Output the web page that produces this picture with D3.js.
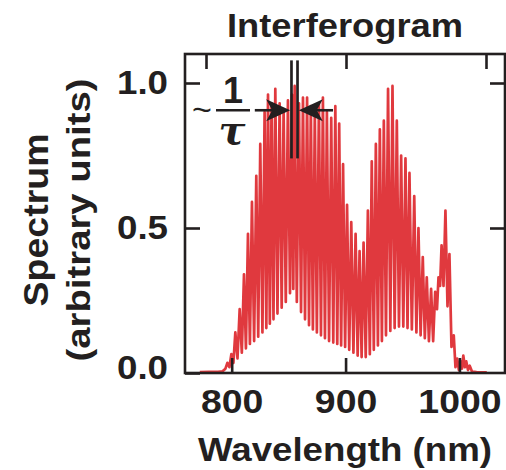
<!DOCTYPE html>
<html>
<head>
<meta charset="utf-8">
<script src="https://cdn.jsdelivr.net/npm/d3@7"></script>
<style>
  body { margin: 0; background: #fff; }
  text { font-family: "Liberation Sans", Arial, Helvetica, sans-serif; font-weight: bold; fill: #231f20; }
</style>
</head>
<body>
<div id="chart"></div>
<script>

// spectrum: fringe peaks and troughs, in order of wavelength
var spectrumWl = [
  772, 780, 788, 792, 794.5,
  796.2, 798.0, 799.7, 801.5, 803.2, 805.1, 807.0, 808.9, 810.8, 812.5,
  814.3, 816.0, 817.8, 819.7, 821.6, 823.3, 825.1, 827.0, 828.9, 830.4,
  831.9, 833.5, 835.0, 836.7, 838.3, 840.2, 842.1, 843.9, 845.6, 847.5,
  849.4, 851.2, 852.9, 854.1, 855.3, 857.2, 859.1, 860.9, 862.6, 864.4,
  866.2, 867.9, 869.5, 871.3, 873.0, 874.8, 876.6, 878.4, 880.1, 881.9,
  883.6, 885.5, 887.4, 889.2, 891.0, 892.7, 894.4, 896.1, 897.8, 899.6,
  901.3, 903.2, 905.0, 906.9, 908.8, 910.6, 912.3, 914.1, 915.8, 917.7,
  919.6, 921.3, 923.0, 924.8, 926.6, 928.4, 930.1, 931.9, 933.6, 935.5,
  937.3, 939.3, 941.2, 943.1, 945.0, 946.9, 948.8, 950.7, 952.6, 954.4,
  956.1, 958.2, 960.3, 962.2, 964.0, 965.9, 967.8, 969.6, 971.3, 973.2,
  975.1, 976.9, 978.7, 980.3, 981.6, 983.0, 984.3, 986.0, 987.7, 989.5,
  991.2, 993.0, 995.0, 996.5, 998.0, 999.5, 1001.0, 1002.2, 1003.4, 1004.8,
  1006.0, 1007.5, 1009.0, 1011, 1015, 1020, 1024
];
var spectrumVal = [
  0.003, 0.004, 0.004, 0.006, 0.015,
  0.035, 0.02, 0.065, 0.035, 0.14, 0.05, 0.22, 0.07, 0.34, 0.085,
  0.48, 0.10, 0.59, 0.11, 0.68, 0.125, 0.79, 0.14, 0.90, 0.155,
  0.96, 0.17, 0.93, 0.185, 0.98, 0.205, 0.93, 0.225, 0.91, 0.245,
  0.94, 0.275, 0.96, 0.29, 0.99, 0.245, 0.93, 0.21, 0.95, 0.185,
  0.95, 0.165, 0.92, 0.15, 0.90, 0.14, 0.93, 0.13, 0.95, 0.12,
  0.90, 0.11, 0.88, 0.105, 0.92, 0.10, 0.86, 0.095, 0.72, 0.09,
  0.58, 0.08, 0.52, 0.07, 0.48, 0.06, 0.42, 0.055, 0.45, 0.055,
  0.56, 0.065, 0.73, 0.08, 0.79, 0.095, 0.84, 0.11, 0.87, 0.13,
  0.98, 0.145, 0.99, 0.155, 0.87, 0.16, 0.75, 0.16, 0.74, 0.155,
  0.69, 0.15, 0.61, 0.14, 0.50, 0.13, 0.40, 0.12, 0.33, 0.11,
  0.29, 0.11, 0.28, 0.22, 0.33, 0.30, 0.44, 0.30, 0.56, 0.23,
  0.41, 0.09, 0.13, 0.02, 0.05, 0.01, 0.04, 0.015, 0.06, 0.02,
  0.04, 0.01, 0.025, 0.005, 0.003, 0.002, 0.002
];

var xTicks = [800, 900, 1000];
var yTicks = [0.0, 0.5, 1.0];
var topTicks = [-1, 0, 1];   // unlabelled marks on the top edge

var chartTitle = "Interferogram";
var xTitle = "Wavelength (nm)";
var yTitle = ["Spectrum", "(arbitrary units)"];

// the "~1/tau" marker: two lines one fringe apart
var fringeWl = [852.5, 857.8];

var margin = { top: 54, right: 1, bottom: 97, left: 185 };
var width = 506 - margin.left - margin.right;
var height = 470 - margin.top - margin.bottom;
var ink = "#231f20";
var red = "#e0393e";

var x = d3.scaleLinear().domain([759, 1040]).range([0, width]);
var y = d3.scaleLinear().domain([0, 1.1]).range([height, 0]);
var xTop = d3.scaleLinear().domain([-1, 1]).range([21, 301]);

var svg = d3.select("#chart").append("svg")
  .attr("width", 506)
  .attr("height", 470);

var g = svg.append("g")
  .attr("transform", "translate(" + margin.left + "," + margin.top + ")");

// widen the glyphs a little, the original lettering is broader than Arial
function widen(sel, k) {
  sel.each(function() {
    var w = this.getComputedTextLength();
    d3.select(this).attr("textLength", w * k).attr("lengthAdjust", "spacingAndGlyphs");
  });
}

var data = spectrumWl.map(function(w, i) { return { wl: w, v: spectrumVal[i] }; });

var line = d3.line()
  .x(function(d) { return x(d.wl); })
  .y(function(d) { return y(d.v); });

g.append("path")
  .datum(data)
  .attr("d", line)
  .attr("fill", "none")
  .attr("stroke", red)
  .attr("stroke-width", 2.7)
  .attr("stroke-linejoin", "round");

// axes, ticks pointing in
function styleAxis(sel) {
  sel.select(".domain").remove();
  sel.selectAll(".tick line").attr("stroke", ink).attr("stroke-width", 2.6);
  sel.selectAll(".tick text").style("font-size", "34px").attr("fill", ink);
}

var xAxis = g.append("g")
  .attr("transform", "translate(0," + height + ")")
  .call(d3.axisBottom(x).tickValues(xTicks).tickSize(-15).tickPadding(16).tickFormat(d3.format("d")));
styleAxis(xAxis);

var yAxis = g.append("g")
  .call(d3.axisLeft(y).tickValues(yTicks).tickSize(-15).tickPadding(17).tickFormat(d3.format(".1f")));
styleAxis(yAxis);
yAxis.selectAll(".tick text").attr("y", function(d) { return d === 0 ? -5 : 0; });

var rAxis = g.append("g")
  .attr("transform", "translate(" + width + ",0)")
  .call(d3.axisRight(y).tickValues([0.5, 1.0]).tickSize(-15).tickFormat(""));
styleAxis(rAxis);

var tAxis = g.append("g")
  .call(d3.axisTop(xTop).tickValues(topTicks).tickSize(-15).tickFormat(""));
styleAxis(tAxis);

g.append("rect")
  .attr("width", width)
  .attr("height", height)
  .attr("fill", "none")
  .attr("stroke", ink)
  .attr("stroke-width", 2.6);

widen(xAxis.selectAll(".tick text"), 1.1);
widen(yAxis.selectAll(".tick text"), 1.08);

// fringe spacing annotation
var ay = y(0.906);
fringeWl.forEach(function(w) {
  g.append("line")
    .attr("x1", x(w)).attr("x2", x(w))
    .attr("y1", y(1.078)).attr("y2", y(0.74))
    .attr("stroke", ink).attr("stroke-width", 2.7);
});

var tipL = x(fringeWl[0]) - 1.3;
var tipR = x(fringeWl[1]) + 1.3;

g.append("line")
  .attr("x1", x(820.3)).attr("x2", tipL - 10)
  .attr("y1", ay).attr("y2", ay)
  .attr("stroke", ink).attr("stroke-width", 2.6);
g.append("line")
  .attr("x1", tipR + 10).attr("x2", x(889))
  .attr("y1", ay).attr("y2", ay)
  .attr("stroke", ink).attr("stroke-width", 2.6);

g.append("path")
  .attr("d", "M" + tipL + "," + ay + "L" + (tipL - 24) + "," + (ay - 11) +
             "L" + (tipL - 18) + "," + ay + "L" + (tipL - 24) + "," + (ay + 11) + "Z")
  .attr("fill", ink);
g.append("path")
  .attr("d", "M" + tipR + "," + ay + "L" + (tipR + 24) + "," + (ay - 11) +
             "L" + (tipR + 18) + "," + ay + "L" + (tipR + 24) + "," + (ay + 11) + "Z")
  .attr("fill", ink);

// ~ 1/tau
var fracX = 48;
g.append("text")
  .attr("x", 17).attr("y", ay + 11)
  .attr("text-anchor", "middle")
  .style("font-size", "34px")
  .style("font-weight", "normal")
  .text("~");
g.append("line")
  .attr("x1", fracX - 17).attr("x2", fracX + 17)
  .attr("y1", ay).attr("y2", ay)
  .attr("stroke", ink).attr("stroke-width", 2.6);
g.append("text")
  .attr("x", fracX).attr("y", ay - 7)
  .attr("text-anchor", "middle")
  .style("font-size", "36px")
  .text("1");
g.append("text")
  .attr("x", fracX - 1).attr("y", ay + 34)
  .attr("text-anchor", "middle")
  .style("font-family", "'DejaVu Serif', serif")
  .style("font-style", "italic")
  .style("font-size", "40px")
  .text("\u03c4");

// titles
svg.append("text")
  .attr("x", 345).attr("y", 37)
  .attr("text-anchor", "middle")
  .attr("textLength", 236).attr("lengthAdjust", "spacingAndGlyphs")
  .style("font-size", "34px")
  .text(chartTitle);

svg.append("text")
  .attr("x", 345).attr("y", 461)
  .attr("text-anchor", "middle")
  .attr("textLength", 294).attr("lengthAdjust", "spacingAndGlyphs")
  .style("font-size", "33px")
  .text(xTitle);

svg.append("text")
  .attr("transform", "translate(48,220) rotate(-90)")
  .attr("text-anchor", "middle")
  .attr("textLength", 173).attr("lengthAdjust", "spacingAndGlyphs")
  .style("font-size", "35px")
  .text(yTitle[0]);

svg.append("text")
  .attr("transform", "translate(90,220) rotate(-90)")
  .attr("text-anchor", "middle")
  .attr("textLength", 283).attr("lengthAdjust", "spacingAndGlyphs")
  .style("font-size", "34px")
  .text(yTitle[1]);

</script>
</body>
</html>
